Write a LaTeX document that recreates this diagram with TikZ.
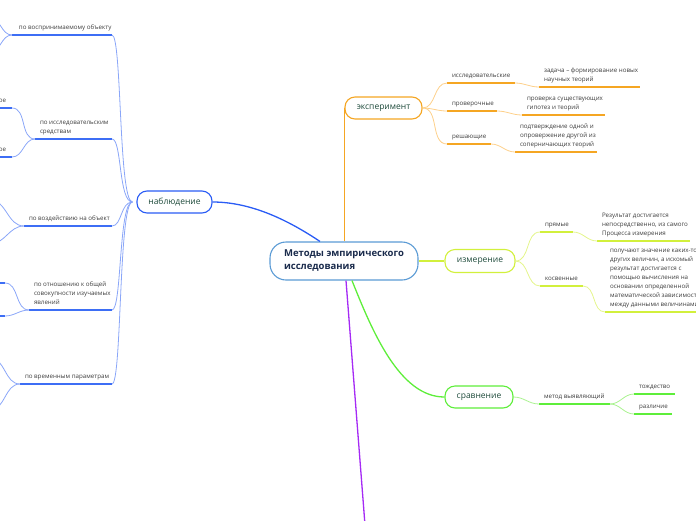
\documentclass[tikz,border=0pt]{standalone}
\usepackage{fontspec}
\setmainfont{Open Sans}
\definecolor{hubline}{HTML}{5B9BD5}
\definecolor{hubtext}{HTML}{1A2B4C}
\definecolor{topictext}{HTML}{1D4A3A}
\definecolor{lbltext}{HTML}{3D3D3D}
\definecolor{nabblue}{HTML}{2A5CF5}
\definecolor{nabul}{HTML}{3D6EF5}
\definecolor{nabcon}{HTML}{8AA6F8}
\definecolor{exporange}{HTML}{F5A623}
\definecolor{expcon}{HTML}{FDD08A}
\definecolor{izmlime}{HTML}{D2F03C}
\definecolor{izmcon}{HTML}{E4F58C}
\definecolor{srvgreen}{HTML}{5EEE3A}
\definecolor{srvcon}{HTML}{A9F28F}
\definecolor{tailpurple}{HTML}{A52AF5}
\begin{document}
\begin{tikzpicture}[x=1pt,y=-1pt,
  topic/.style={draw,line width=1.1pt,rounded corners=10pt,fill=white,text=topictext,inner sep=0pt,font=\fontsize{8.5}{10}\selectfont},
  lbl/.style={anchor=south west,align=left,inner sep=0pt,text depth=0pt,text=lbltext,font=\fontsize{6.2}{9}\selectfont,xshift=4pt,yshift=5pt},
  ul/.style={line width=2pt},
  con/.style={line width=0.8pt},
  main/.style={line width=1.3pt}]
\useasboundingbox (0,0) rectangle (696,520);
\clip (0,0) rectangle (696,520);
\node[topic,draw=hubline,rounded corners=16pt,minimum width=148pt,minimum height=38pt,align=left,text=hubtext,font=\bfseries\fontsize{9.5}{13}\selectfont] (hub) at (344,261) {Методы эмпирического\\исследования};
\node[topic,draw=exporange,minimum width=77pt,minimum height=22pt] (exp) at (383.5,108) {эксперимент};
\node[topic,draw=izmlime,minimum width=70pt,minimum height=23pt] (izm) at (480,261) {измерение};
\node[topic,draw=srvgreen,minimum width=68pt,minimum height=22pt] (srv) at (479,397) {сравнение};
\node[topic,draw=nabblue,minimum width=75pt,minimum height=22pt] (nab) at (174.5,202) {наблюдение};
\coordinate (tail) at (365,525);
\draw[main,exporange] (exp.west) -- (exp.west |- hub.north);
\draw[main,izmlime] (hub.east) -- (izm.west);
\draw[main,nabblue] (nab.east) .. controls +(40,0) and +(-30,-20) .. ([xshift=-24pt]hub.north);
\draw[main,srvgreen] ([xshift=8pt]hub.south) .. controls +(20,50) and +(-45,0) .. (srv.west);
\draw[main,tailpurple] ([xshift=2pt]hub.south) -- (tail);
\draw[ul,exporange] (447,83) coordinate (isA) -- node[lbl,pos=0] (is) {исследовательские} (515,83) coordinate (isB);
\draw[ul,exporange] (447,111) coordinate (prA) -- node[lbl,pos=0] (pr) {проверочные} (497,111) coordinate (prB);
\draw[ul,exporange] (447,144) coordinate (reA) -- node[lbl,pos=0] (re) {решающие} (491,144) coordinate (reB);
\draw[ul,exporange] (539,87) coordinate (iscA) -- node[lbl,pos=0] (isc) {задача – формирование новых\\научных теорий} (640,87) coordinate (iscB);
\draw[ul,exporange] (522,115) coordinate (prcA) -- node[lbl,pos=0] (prc) {проверка существующих\\гипотез и теорий} (605,115) coordinate (prcB);
\draw[ul,exporange] (515,152) coordinate (recA) -- node[lbl,pos=0] (rec) {подтверждение одной и\\опровержение другой из\\соперничающих теорий} (597,152) coordinate (recB);
\draw[con,expcon] (exp.east) to[out=0,in=180] (isA);
\draw[con,expcon] (exp.east) to[out=0,in=180] (prA);
\draw[con,expcon] (exp.east) to[out=0,in=180] (reA);
\draw[con,expcon] (isB) to[out=0,in=180] (iscA);
\draw[con,expcon] (prB) to[out=0,in=180] (prcA);
\draw[con,expcon] (reB) to[out=0,in=180] (recA);
\draw[ul,izmlime] (540,232) coordinate (pmA) -- node[lbl,pos=0] (pm) {прямые} (573,232) coordinate (pmB);
\draw[ul,izmlime] (540,286) coordinate (ksA) -- node[lbl,pos=0] (ks) {косвенные} (583,286) coordinate (ksB);
\draw[ul,izmlime] (597,241) coordinate (pmcA) -- node[lbl,pos=0] (pmc) {Результат достигается\\непосредственно, из самого\\Процесса измерения} (690,241) coordinate (pmcB);
\draw[ul,izmlime] (605,312) coordinate (kscA) -- node[lbl,pos=0] (ksc) {получают значение каких-то\\других величин, а искомый\\результат достигается с\\помощью вычисления на\\основании определенной\\математической зависимости\\между данными величинами} (700,312) coordinate (kscB);
\draw[con,izmcon] (izm.east) to[out=0,in=180] (pmA);
\draw[con,izmcon] (izm.east) to[out=0,in=180] (ksA);
\draw[con,izmcon] (pmB) to[out=0,in=180] (pmcA);
\draw[con,izmcon] (ksB) to[out=0,in=180] (kscA);
\draw[ul,srvgreen] (539,404) coordinate (mvA) -- node[lbl,pos=0] (mv) {метод выявляющий} (610,404) coordinate (mvB);
\draw[ul,srvgreen] (634,394) coordinate (tdA) -- node[lbl,pos=0] (td) {тождество} (675,394) coordinate (tdB);
\draw[ul,srvgreen] (634,414) coordinate (rzA) -- node[lbl,pos=0] (rz) {различие} (672,414) coordinate (rzB);
\draw[con,srvcon] (srv.east) to[out=0,in=180] (mvA);
\draw[con,srvcon] (mvB) to[out=0,in=180] (tdA);
\draw[con,srvcon] (mvB) to[out=0,in=180] (rzA);
\coordinate (nabj) at ([xshift=-4pt]nab.west);
\draw[ul,nabul] (12,35) coordinate (voA) -- node[lbl,pos=0,xshift=2pt] (vo) {по воспринимаемому объекту} (112,35) coordinate (voB);
\draw[ul,nabul] (35,139) coordinate (icA) -- node[lbl,pos=0] (ic) {по исследовательским\\средствам} (112,139) coordinate (icB);
\draw[ul,nabul] (24,226) coordinate (vzA) -- node[lbl,pos=0] (vz) {по воздействию на объект} (112,226) coordinate (vzB);
\draw[ul,nabul] (29,310) coordinate (otA) -- node[lbl,pos=0] (ot) {по отношению к общей\\совокупности изучаемых\\явлений} (112,310) coordinate (otB);
\draw[ul,nabul] (20,384) coordinate (vrA) -- node[lbl,pos=0] (vr) {по временным параметрам} (112,384) coordinate (vrB);
\draw[con,nabcon] (nabj) .. controls +(-14,0) and +(10,0) .. (voB);
\draw[con,nabcon] (nabj) .. controls +(-14,0) and +(10,0) .. (icB);
\draw[con,nabcon] (nabj) .. controls +(-12,0) and +(10,0) .. (vzB);
\draw[con,nabcon] (nabj) .. controls +(-14,0) and +(10,0) .. (otB);
\draw[con,nabcon] (nabj) .. controls +(-14,0) and +(10,0) .. (vrB);
\draw[ul,nabul] (-60,108) coordinate (icpA) -- (12,108) coordinate (icpB) node[lbl,anchor=south east,xshift=-9pt] (icp) {непосредственное};
\draw[ul,nabul] (-60,157) coordinate (icoA) -- (12,157) coordinate (icoB) node[lbl,anchor=south east,xshift=-9pt] (ico) {опосредованное};
\draw[ul,nabul] (-40,283) coordinate (otpA) -- (5,283) coordinate (otpB);
\draw[ul,nabul] (-40,316) coordinate (otoA) -- (5,316) coordinate (otoB);
\coordinate (vo1) at (-10,18);
\coordinate (vo2) at (-10,52);
\coordinate (vz1) at (-10,200);
\coordinate (vz2) at (-10,244);
\coordinate (vr1) at (-10,358);
\coordinate (vr2) at (-10,410);
\draw[con,nabcon] (voA) to[out=180,in=0] (vo1);
\draw[con,nabcon] (voA) to[out=180,in=0] (vo2);
\draw[con,nabcon] (icA) to[out=180,in=0] (icpB);
\draw[con,nabcon] (icA) to[out=180,in=0] (icoB);
\draw[con,nabcon] (vzA) to[out=180,in=0] (vz1);
\draw[con,nabcon] (vzA) to[out=180,in=0] (vz2);
\draw[con,nabcon] (otA) to[out=180,in=0] (otpB);
\draw[con,nabcon] (otA) to[out=180,in=0] (otoB);
\draw[con,nabcon] (vrA) to[out=180,in=0] (vr1);
\draw[con,nabcon] (vrA) to[out=180,in=0] (vr2);
\end{tikzpicture}
\end{document}
